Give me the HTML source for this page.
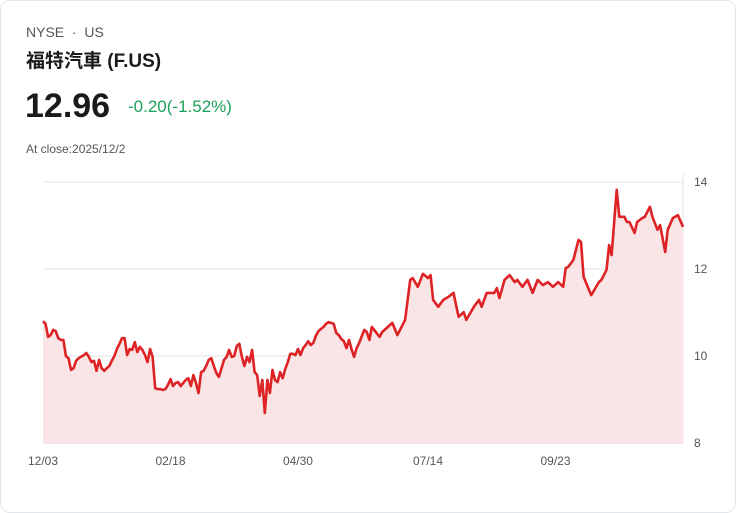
<!DOCTYPE html>
<html><head><meta charset="utf-8"><style>
body{margin:0;background:#fff;font-family:"Liberation Sans","Noto Sans CJK TC",sans-serif;}
.card{position:absolute;left:0;top:0;width:734px;height:511px;border:1px solid #e3e6ea;border-radius:10px;background:#fff;}
.ex{position:absolute;left:25px;top:23px;font-size:14px;color:#555;}
.title{position:absolute;left:25px;top:45px;font-size:19px;font-weight:bold;color:#1a1a1a;}
.price{position:absolute;left:24px;top:86px;font-size:34px;font-weight:bold;color:#1a1a1a;}
.chg{position:absolute;left:127px;top:96px;font-size:17px;color:#1aa15a;}
.close{position:absolute;left:25px;top:141px;font-size:12px;color:#555;}
svg{position:absolute;left:0;top:0;}
</style></head><body>
<div class="card">
<div class="ex">NYSE &nbsp;·&nbsp; US</div>
<div class="title">福特汽車 (F.US)</div>
<div class="price">12.96</div>
<div class="chg">-0.20(-1.52%)</div>
<div class="close">At close:2025/12/2</div>
</div>
<svg id="chart" width="736" height="513"></svg>
<script>
const days=[0,1,2,3,4,5,6,7,8,9,10,11,12,13,14,16,17,18,19,20,21,22,23,24,25,26,27,28,29,30,31,32,33,34,35,36,37,38,39,40,41,42,43,44,45,46,47,48,49,50,51,52,53,54,55,56,57,58,59,60,61,62,63,64,65,66,67,68,69,70,71,72,73,74,75,76,77,78,79,80,81,82,83,84,85,86,87,88,89,90,91,92,93,94,95,96,97,98,99,100,101,102,103,104,105,106,107,108,109,110,111,112,113,114,115,116,117,118,119,120,121,122,123,124,125,126,127,128,129,132,133,137,139,142,144,145,147,149,151,152,153,155,157,159,161,163,165,166,169,171,172,174,177,178,179,181,183,185,186,188,190,192,194,196,198,200,202,204,205,206,208,210,211,212,215,218,219,221,222,223,225,226,228,229,230,232,233,235,236,238,239,241,242,244,245,247,249,251];
const prices=[10.80,10.74,10.44,10.48,10.60,10.57,10.41,10.37,10.37,10.00,9.95,9.68,9.72,9.89,9.95,10.02,10.07,9.98,9.86,9.89,9.66,9.91,9.72,9.66,9.72,9.77,9.89,10.00,10.16,10.28,10.41,10.41,10.02,10.16,10.14,10.32,10.09,10.21,10.14,10.02,9.86,10.16,9.98,9.26,9.24,9.24,9.22,9.24,9.33,9.47,9.31,9.38,9.40,9.31,9.38,9.45,9.49,9.31,9.56,9.38,9.15,9.63,9.66,9.77,9.91,9.95,9.77,9.61,9.52,9.72,9.91,9.98,10.14,9.98,10.00,10.23,10.28,9.98,9.77,9.98,9.86,10.14,9.63,9.56,9.08,9.45,8.69,9.45,9.15,9.68,9.45,9.40,9.63,9.49,9.70,9.86,10.05,10.05,10.02,10.16,10.02,10.18,10.25,10.34,10.25,10.30,10.46,10.57,10.62,10.67,10.74,10.78,10.76,10.74,10.53,10.48,10.39,10.34,10.18,10.37,10.16,9.98,10.18,10.30,10.45,10.60,10.55,10.37,10.67,10.44,10.55,10.76,10.48,10.83,11.75,11.79,11.59,11.89,11.79,11.86,11.29,11.13,11.29,11.36,11.45,10.90,11.01,10.83,11.13,11.29,11.13,11.45,11.45,11.56,11.33,11.75,11.86,11.70,11.75,11.59,11.75,11.45,11.75,11.63,11.70,11.59,11.70,11.59,12.02,12.05,12.21,12.67,12.62,11.82,11.40,11.70,11.75,11.98,12.55,12.32,13.82,13.20,13.20,13.08,13.08,12.83,13.08,13.17,13.20,13.43,13.20,12.90,13.01,12.39,12.90,13.17,13.24,12.97];
const yTicks=[8,10,12,14];
const xTickDays=[0,50,100,151,201];
const xTickLabels=["12/03","02/18","04/30","07/14","09/23"];
const X0=43,X1=683,Y0=443,Y1=182,DMAX=251,VMIN=8,VMAX=14;
const sx=d=>X0+(d/DMAX)*(X1-X0);
const sy=v=>Y0-(v-VMIN)/(VMAX-VMIN)*(Y0-Y1);
const svg=document.getElementById('chart');
const NS='http://www.w3.org/2000/svg';
function mk(t,a){const e=document.createElementNS(NS,t);for(const k in a)e.setAttribute(k,a[k]);svg.appendChild(e);return e;}
yTicks.forEach(v=>{
 const l=mk('line',{x1:X0,x2:X1,y1:sy(v),y2:sy(v),stroke:v===VMIN?'#cfcfcf':'#e2e2e2','stroke-width':1});
 
 
 const t=mk('text',{x:694,y:sy(v)+4,'font-size':12,fill:'#555','font-family':'Liberation Sans, sans-serif'});
 t.textContent=v;
 
 
});
const ax=mk('line',{x1:X1,x2:X1,y1:Y1-8,y2:Y0,stroke:'#e2e2e2','stroke-width':1});


xTickDays.forEach((d,i)=>{
 const t=mk('text',{x:sx(d),y:465,'font-size':12,fill:'#555','text-anchor':'middle','font-family':'Liberation Sans, sans-serif'});
 t.textContent=xTickLabels[i];
 
 
});
let p='';days.forEach((d,i)=>{p+=(i?'L':'M')+sx(d).toFixed(1)+','+sy(prices[i]).toFixed(1);});
const area=mk('path',{d:p+'L'+sx(days[days.length-1])+','+Y0+'L'+sx(days[0])+','+Y0+'Z',fill:'#f9e5e5'});


const line=mk('path',{d:p,fill:'none',stroke:'#dd2326','stroke-width':2.6,'stroke-linejoin':'round'});


</script>
</body></html>
